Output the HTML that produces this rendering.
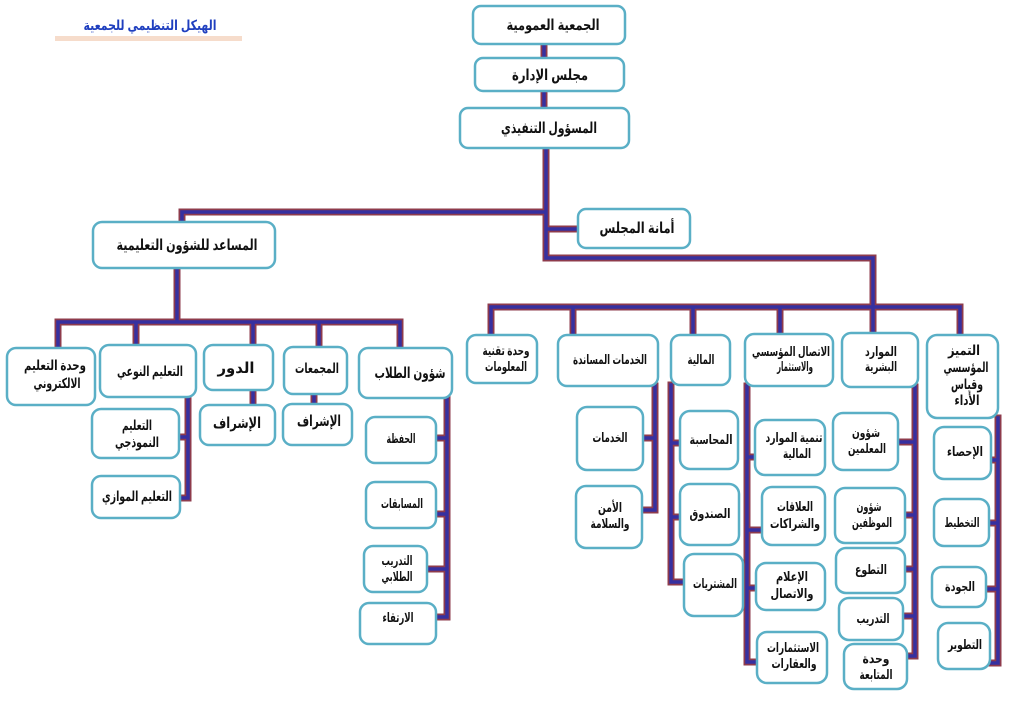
<!DOCTYPE html>
<html><head><meta charset="utf-8"><style>
html,body{margin:0;padding:0;background:#fff;width:1024px;height:723px;overflow:hidden}
svg{display:block}
text{font-family:"Liberation Sans","DejaVu Sans",sans-serif;font-weight:bold;fill:#111;text-anchor:middle;direction:rtl;unicode-bidi:embed}
.b{fill:#fff;stroke:#5aafc6;stroke-width:2.5}
.s{font-size:13px}
.m{font-size:14px}
.l{font-size:15px}
</style></head><body>
<svg width="1024" height="723" viewBox="0 0 1024 723" xmlns="http://www.w3.org/2000/svg">
<rect x="55" y="36" width="187" height="5" fill="#f6dccb"/>
<text x="150" y="30" class="m" style="fill:#1f3fbf" textLength="133" lengthAdjust="spacingAndGlyphs">الهيكل التنظيمي للجمعية</text>

<g id="lines" fill="none" stroke-linecap="square">
<g stroke="#8e3b4c" stroke-width="7">
<path d="M544 44V58M544 91V108M546 148V258M182 212H546M182 212V222M548 229H578M546 258H873V333"/>
<path d="M177 268V322M58 322H400M58 322V348M136 322V345M253 322V345M319 322V347M400 322V348M253 390V405M314 394V404"/>
<path d="M188 397V498M179 437H188M180 498H188"/>
<path d="M447 398V617M436 438H447M436 514H447M427 569H447M436 617H447"/>
<path d="M491 307H960M491 307V335M573 307V335M693 307V335M780 307V334M960 307V335"/>
<path d="M655 386V510M643 438H655M642 510H655"/>
<path d="M671 385V582H684M671 443H680M671 517H680"/>
<path d="M747 386V662M747 457H755M747 530H762M747 588H756M747 662H757"/>
<path d="M915 387V656M898 442H915M905 515H915M905 569H915M903 616H915M907 656H915"/>
<path d="M998 418V663M991 460H998M989 523H998M986 589H998M990 663H998"/>
</g>
<g stroke="#3630a0" stroke-width="3.5">
<path d="M544 44V58M544 91V108M546 148V258M182 212H546M182 212V222M548 229H578M546 258H873V333"/>
<path d="M177 268V322M58 322H400M58 322V348M136 322V345M253 322V345M319 322V347M400 322V348M253 390V405M314 394V404"/>
<path d="M188 397V498M179 437H188M180 498H188"/>
<path d="M447 398V617M436 438H447M436 514H447M427 569H447M436 617H447"/>
<path d="M491 307H960M491 307V335M573 307V335M693 307V335M780 307V334M960 307V335"/>
<path d="M655 386V510M643 438H655M642 510H655"/>
<path d="M671 385V582H684M671 443H680M671 517H680"/>
<path d="M747 386V662M747 457H755M747 530H762M747 588H756M747 662H757"/>
<path d="M915 387V656M898 442H915M905 515H915M905 569H915M903 616H915M907 656H915"/>
<path d="M998 418V663M991 460H998M989 523H998M986 589H998M990 663H998"/>
</g>
</g>

<!-- top -->
<rect class="b" x="473" y="6" width="152" height="38" rx="8"/>
<text x="553" y="30" class="l" textLength="93" lengthAdjust="spacingAndGlyphs">الجمعية العمومية</text>
<rect class="b" x="475" y="58" width="149" height="33" rx="8"/>
<text x="550" y="80" class="l" textLength="76" lengthAdjust="spacingAndGlyphs">مجلس الإدارة</text>
<rect class="b" x="460" y="108" width="169" height="40" rx="8"/>
<text x="549" y="133" class="l" textLength="96" lengthAdjust="spacingAndGlyphs">المسؤول التنفيذي</text>
<rect class="b" x="578" y="209" width="112" height="39" rx="8"/>
<text x="637" y="233" class="l" textLength="75" lengthAdjust="spacingAndGlyphs">أمانة المجلس</text>
<rect class="b" x="93" y="222" width="182" height="46" rx="9"/>
<text x="187" y="250" class="l" textLength="141" lengthAdjust="spacingAndGlyphs">المساعد للشؤون التعليمية</text>

<!-- left row -->
<rect class="b" x="7" y="348" width="88" height="57" rx="9"/>
<text x="55" y="370" class="m" textLength="62" lengthAdjust="spacingAndGlyphs">وحدة التعليم</text>
<text x="57" y="388" class="m" textLength="47" lengthAdjust="spacingAndGlyphs">الالكتروني</text>
<rect class="b" x="100" y="345" width="96" height="52" rx="9"/>
<text x="150" y="376" class="m" textLength="66" lengthAdjust="spacingAndGlyphs">التعليم النوعي</text>
<rect class="b" x="204" y="345" width="69" height="45" rx="9"/>
<text x="236" y="373" class="l" textLength="37" lengthAdjust="spacingAndGlyphs">الدور</text>
<rect class="b" x="284" y="347" width="63" height="47" rx="9"/>
<text x="317" y="373" class="m" textLength="44" lengthAdjust="spacingAndGlyphs">المجمعات</text>
<rect class="b" x="359" y="348" width="93" height="50" rx="9"/>
<text x="410" y="378" class="l" textLength="71" lengthAdjust="spacingAndGlyphs">شؤون الطلاب</text>

<rect class="b" x="92" y="409" width="87" height="49" rx="9"/>
<text x="137" y="430" class="m" textLength="30" lengthAdjust="spacingAndGlyphs">التعليم</text>
<text x="137" y="447" class="m" textLength="44" lengthAdjust="spacingAndGlyphs">النموذجي</text>
<rect class="b" x="92" y="476" width="88" height="42" rx="9"/>
<text x="137" y="501" class="m" textLength="70" lengthAdjust="spacingAndGlyphs">التعليم الموازي</text>
<rect class="b" x="200" y="405" width="75" height="40" rx="9"/>
<text x="237" y="428" class="l" textLength="48" lengthAdjust="spacingAndGlyphs">الإشراف</text>
<rect class="b" x="283" y="404" width="69" height="41" rx="9"/>
<text x="319" y="426" class="l" textLength="44" lengthAdjust="spacingAndGlyphs">الإشراف</text>

<rect class="b" x="366" y="417" width="70" height="46" rx="9"/>
<text x="401" y="443" class="s" textLength="29" lengthAdjust="spacingAndGlyphs">الحفظة</text>
<rect class="b" x="366" y="482" width="70" height="46" rx="9"/>
<text x="402" y="508" class="s" textLength="42" lengthAdjust="spacingAndGlyphs">المسابقات</text>
<rect class="b" x="364" y="546" width="63" height="46" rx="9"/>
<text x="397" y="565" class="s" textLength="31" lengthAdjust="spacingAndGlyphs">التدريب</text>
<text x="397" y="581" class="s" textLength="31" lengthAdjust="spacingAndGlyphs">الطلابي</text>
<rect class="b" x="360" y="603" width="76" height="41" rx="9"/>
<text x="398" y="622" class="s" textLength="31" lengthAdjust="spacingAndGlyphs">الارتقاء</text>

<!-- right row -->
<rect class="b" x="467" y="335" width="70" height="48" rx="9"/>
<text x="506" y="355" class="s" textLength="47" lengthAdjust="spacingAndGlyphs">وحدة تقنية</text>
<text x="506" y="371" class="s" textLength="42" lengthAdjust="spacingAndGlyphs">المعلومات</text>
<rect class="b" x="558" y="335" width="100" height="51" rx="9"/>
<text x="610" y="364" class="s" textLength="74" lengthAdjust="spacingAndGlyphs">الخدمات المساندة</text>
<rect class="b" x="671" y="335" width="59" height="50" rx="9"/>
<text x="701" y="364" class="s" textLength="27" lengthAdjust="spacingAndGlyphs">المالية</text>
<rect class="b" x="745" y="334" width="88" height="52" rx="9"/>
<text x="791" y="356" class="s" textLength="78" lengthAdjust="spacingAndGlyphs">الاتصال المؤسسي</text>
<text x="795" y="371" class="s" textLength="36" lengthAdjust="spacingAndGlyphs">والاستثمار</text>
<rect class="b" x="842" y="333" width="76" height="54" rx="9"/>
<text x="881" y="356" class="s" textLength="32" lengthAdjust="spacingAndGlyphs">الموارد</text>
<text x="881" y="371" class="s" textLength="32" lengthAdjust="spacingAndGlyphs">البشرية</text>
<rect class="b" x="927" y="335" width="71" height="83" rx="10"/>
<text x="964" y="355" class="m" textLength="32" lengthAdjust="spacingAndGlyphs">التميز</text>
<text x="966" y="372" class="m" textLength="45" lengthAdjust="spacingAndGlyphs">المؤسسي</text>
<text x="967" y="389" class="m" textLength="32" lengthAdjust="spacingAndGlyphs">وقياس</text>
<text x="967" y="405" class="m" textLength="25" lengthAdjust="spacingAndGlyphs">الأداء</text>

<rect class="b" x="577" y="407" width="66" height="63" rx="10"/>
<text x="610" y="442" class="s" textLength="35" lengthAdjust="spacingAndGlyphs">الخدمات</text>
<rect class="b" x="576" y="486" width="66" height="62" rx="10"/>
<text x="610" y="512" class="s" textLength="24" lengthAdjust="spacingAndGlyphs">الأمن</text>
<text x="610" y="528" class="s" textLength="39" lengthAdjust="spacingAndGlyphs">والسلامة</text>
<rect class="b" x="680" y="411" width="58" height="58" rx="10"/>
<text x="711" y="444" class="s" textLength="43" lengthAdjust="spacingAndGlyphs">المحاسبة</text>
<rect class="b" x="680" y="484" width="59" height="61" rx="10"/>
<text x="710" y="518" class="s" textLength="41" lengthAdjust="spacingAndGlyphs">الصندوق</text>
<rect class="b" x="684" y="554" width="59" height="62" rx="10"/>
<text x="715" y="588" class="s" textLength="44" lengthAdjust="spacingAndGlyphs">المشتريات</text>

<rect class="b" x="755" y="420" width="70" height="55" rx="10"/>
<text x="794" y="442" class="s" textLength="57" lengthAdjust="spacingAndGlyphs">تنمية الموارد</text>
<text x="797" y="458" class="s" textLength="28" lengthAdjust="spacingAndGlyphs">المالية</text>
<rect class="b" x="762" y="487" width="63" height="58" rx="10"/>
<text x="795" y="511" class="s" textLength="36" lengthAdjust="spacingAndGlyphs">العلاقات</text>
<text x="795" y="528" class="s" textLength="50" lengthAdjust="spacingAndGlyphs">والشراكات</text>
<rect class="b" x="756" y="563" width="69" height="47" rx="10"/>
<text x="792" y="581" class="s" textLength="32" lengthAdjust="spacingAndGlyphs">الإعلام</text>
<text x="792" y="598" class="s" textLength="43" lengthAdjust="spacingAndGlyphs">والاتصال</text>
<rect class="b" x="757" y="632" width="70" height="51" rx="10"/>
<text x="793" y="652" class="s" textLength="52" lengthAdjust="spacingAndGlyphs">الاستثمارات</text>
<text x="794" y="668" class="s" textLength="45" lengthAdjust="spacingAndGlyphs">والعقارات</text>

<rect class="b" x="833" y="413" width="65" height="57" rx="10"/>
<text x="866" y="437" class="s" textLength="28" lengthAdjust="spacingAndGlyphs">شؤون</text>
<text x="867" y="453" class="s" textLength="38" lengthAdjust="spacingAndGlyphs">المعلمين</text>
<rect class="b" x="835" y="488" width="70" height="55" rx="10"/>
<text x="869" y="511" class="s" textLength="25" lengthAdjust="spacingAndGlyphs">شؤون</text>
<text x="872" y="527" class="s" textLength="40" lengthAdjust="spacingAndGlyphs">الموظفين</text>
<rect class="b" x="836" y="548" width="69" height="45" rx="10"/>
<text x="871" y="574" class="s" textLength="32" lengthAdjust="spacingAndGlyphs">التطوع</text>
<rect class="b" x="839" y="598" width="64" height="42" rx="10"/>
<text x="873" y="623" class="s" textLength="33" lengthAdjust="spacingAndGlyphs">التدريب</text>
<rect class="b" x="844" y="644" width="63" height="45" rx="10"/>
<text x="876" y="663" class="s" textLength="27" lengthAdjust="spacingAndGlyphs">وحدة</text>
<text x="876" y="679" class="s" textLength="33" lengthAdjust="spacingAndGlyphs">المتابعة</text>

<rect class="b" x="934" y="427" width="57" height="52" rx="10"/>
<text x="965" y="456" class="s" textLength="36" lengthAdjust="spacingAndGlyphs">الإحصاء</text>
<rect class="b" x="934" y="499" width="55" height="47" rx="10"/>
<text x="962" y="527" class="s" textLength="35" lengthAdjust="spacingAndGlyphs">التخطيط</text>
<rect class="b" x="932" y="567" width="54" height="40" rx="10"/>
<text x="960" y="591" class="s" textLength="30" lengthAdjust="spacingAndGlyphs">الجودة</text>
<rect class="b" x="938" y="623" width="52" height="46" rx="10"/>
<text x="965" y="649" class="s" textLength="34" lengthAdjust="spacingAndGlyphs">التطوير</text>
</svg>
</body></html>
